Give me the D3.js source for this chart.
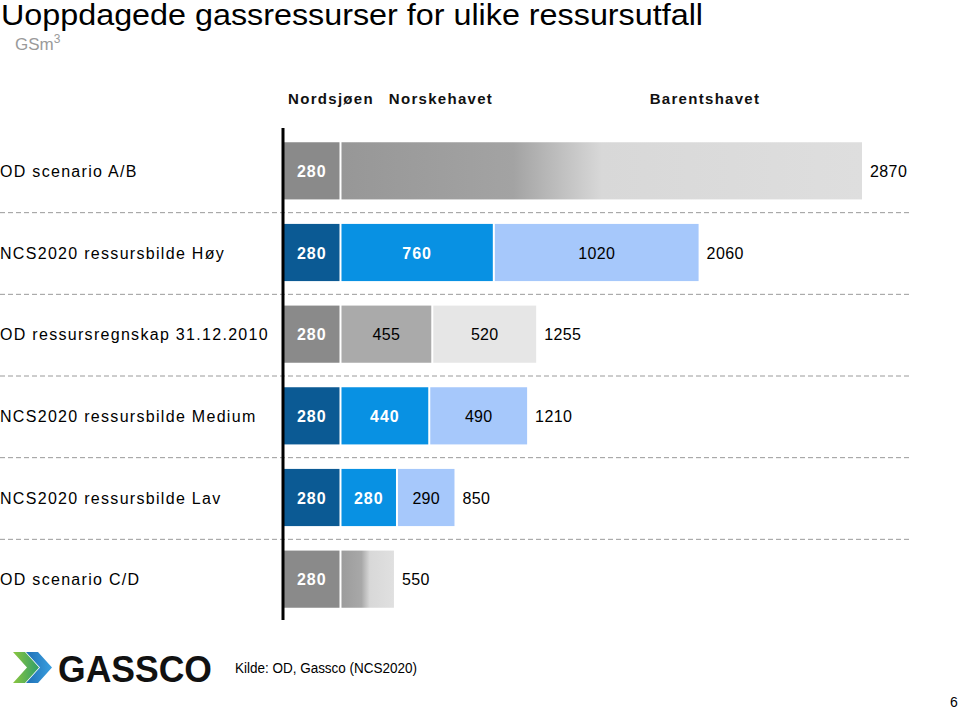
<!DOCTYPE html>
<html><head><meta charset="utf-8">
<script src="https://cdn.jsdelivr.net/npm/d3@7"></script>
<style>
html,body{margin:0;padding:0;background:#fff;}
svg text{font-family:"Liberation Sans",Arial,Helvetica,sans-serif;}
</style></head>
<body>
<svg id="chart" width="960" height="709"></svg>
<script>
// ---- data ----
const categories = ["OD scenario A/B","NCS2020 ressursbilde Høy","OD ressursregnskap 31.12.2010","NCS2020 ressursbilde Medium","NCS2020 ressursbilde Lav","OD scenario C/D"];
const nordsjoen   = [280, 280, 280, 280, 280, 280];
const norskehavet = [null, 760, 455, 440, 280, null];
const barentshavet= [null, 1020, 520, 490, 290, null];
const uncertainRest = [2590, null, null, null, null, 270]; // Norskehavet + Barentshavet, not split
const totals = [2870, 2060, 1255, 1210, 850, 550];
const rowScheme = ["grad","blue","gray","blue","blue","grad"];
const regions = ["Nordsjøen","Norskehavet","Barentshavet"];

const svg = d3.select("#chart");
const defs = svg.append("defs");

function grad(id, stops){
  const g = defs.append("linearGradient").attr("id",id).attr("x1","0").attr("x2","1").attr("y1","0").attr("y2","0");
  stops.forEach(s=>g.append("stop").attr("offset",s[0]).attr("stop-color",s[1]));
}
grad("gradLong", [[0,"#979797"],[0.33,"#a3a3a3"],[0.50,"#d8d8d8"],[1,"#dedede"]]);
grad("gradShort",[[0,"#9c9c9c"],[0.38,"#a8a8a8"],[0.54,"#d8d8d8"],[1,"#e0e0e0"]]);
grad("logoG",[[0,"#8cc63f"],[1,"#2e9e6a"]]);
grad("logoB",[[0,"#1f6fb5"],[1,"#3aa0e0"]]);

const colors = {
  blue:["#0b5a94","#0891e3","#a6c8fb"],
  gray:["#8a8a8a","#aaaaaa","#e6e6e6"],
  grad:["#8a8a8a","url(#gradLong)"]
};
const textColors = {blue:["#fff","#fff","#000"], gray:["#fff","#000","#000"], grad:["#fff",null]};

// ---- scales ----
const x = d3.scaleLinear().domain([0, 2870]).range([284, 863]);
const y = d3.scaleBand().domain(categories).range([130, 620]).paddingInner(0.3).paddingOuter(0.15);

// ---- title ----
svg.append("text").attr("x",1).attr("y",25).attr("font-size",29).attr("fill","#000")
  .attr("textLength",702).attr("lengthAdjust","spacingAndGlyphs")
  .text("Uoppdagede gassressurser for ulike ressursutfall");
const unit = svg.append("text").attr("x",15).attr("y",50).attr("font-size",17).attr("fill","#9a9a9a").text("GSm");
unit.append("tspan").attr("dy",-7).attr("font-size",12).text("3");

// ---- header ----
const headerX = [331, 441, 705];
svg.selectAll("text.hdr").data(regions).join("text").attr("class","hdr")
  .attr("x",(d,i)=>headerX[i]).attr("y",104).attr("text-anchor","middle")
  .attr("font-size",15).attr("font-weight","bold").attr("letter-spacing",1.3).attr("fill","#111").text(d=>d);

// ---- dashed separators ----
const sepY = categories.slice(1).map(c => y(c) - (y.step()-y.bandwidth())/2);
svg.selectAll("line.sep").data(sepY).join("line").attr("class","sep")
  .attr("x1",0).attr("x2",912).attr("y1",d=>d+1).attr("y2",d=>d+1)
  .attr("stroke","#9a9a9a").attr("stroke-width",1).attr("stroke-dasharray","5,3");

// ---- rows ----
categories.forEach((cat,i)=>{
  const scheme = rowScheme[i];
  let segs;
  if (scheme==="grad") segs = [nordsjoen[i], uncertainRest[i]];
  else segs = [nordsjoen[i], norskehavet[i], barentshavet[i]];
  let acc = 0;
  const g = svg.append("g");
  segs.forEach((v,j)=>{
    const x0 = x(acc) + (j>0?1:0), x1 = x(acc+v) - 1;
    let fill = colors[scheme][j];
    if (scheme==="grad" && j===1) fill = (i===0) ? "url(#gradLong)" : "url(#gradShort)";
    g.append("rect").attr("x",x0).attr("y",y(cat)).attr("width",x1-x0).attr("height",y.bandwidth()).attr("fill",fill);
    const tc = textColors[scheme][j];
    if (tc){
      g.append("text").attr("x",(x0+x1)/2).attr("y",y(cat)+y.bandwidth()/2+6)
        .attr("text-anchor","middle").attr("font-size",16)
        .attr("font-weight", tc==="#fff" ? "bold":"normal")
        .attr("letter-spacing", tc==="#fff" ? 1 : 0.3)
        .attr("fill",tc).text(v);
    }
    acc += v;
  });
  g.append("text").attr("x",x(totals[i])+7).attr("y",y(cat)+y.bandwidth()/2+6)
    .attr("font-size",16).attr("letter-spacing",0.4).attr("fill","#000").text(totals[i]);
  svg.append("text").attr("x",0).attr("y",y(cat)+y.bandwidth()/2+6)
    .attr("font-size",16).attr("fill","#000").attr("letter-spacing",1.3).text(cat);
});

// ---- axis line ----
svg.append("line").attr("x1",283).attr("x2",283).attr("y1",128).attr("y2",620)
  .attr("stroke","#000").attr("stroke-width",3);

// ---- footer: logo ----
function chev(x0,y0,w,h,d){ return `M${x0},${y0} L${x0+w},${y0} L${x0+w+d},${y0+h/2} L${x0+w},${y0+h} L${x0},${y0+h} L${x0+d},${y0+h/2} Z`; }
svg.append("path").attr("d",chev(13,652,12,31,14)).attr("fill","url(#logoG)");
svg.append("path").attr("d",chev(26,652,12,31,14)).attr("fill","url(#logoB)");
svg.append("text").attr("x",58).attr("y",682).attr("font-family","DejaVu Sans").attr("font-weight","bold")
  .attr("font-size",37).attr("textLength",154).attr("lengthAdjust","spacingAndGlyphs").attr("fill","#111").text("GASSCO");
svg.append("text").attr("x",235).attr("y",673).attr("font-size",14).attr("fill","#000")
  .attr("textLength",182).attr("lengthAdjust","spacingAndGlyphs").text("Kilde: OD, Gassco (NCS2020)");
svg.append("text").attr("x",950).attr("y",707).attr("font-size",14).attr("fill","#000").text("6");
</script>
</body></html>
